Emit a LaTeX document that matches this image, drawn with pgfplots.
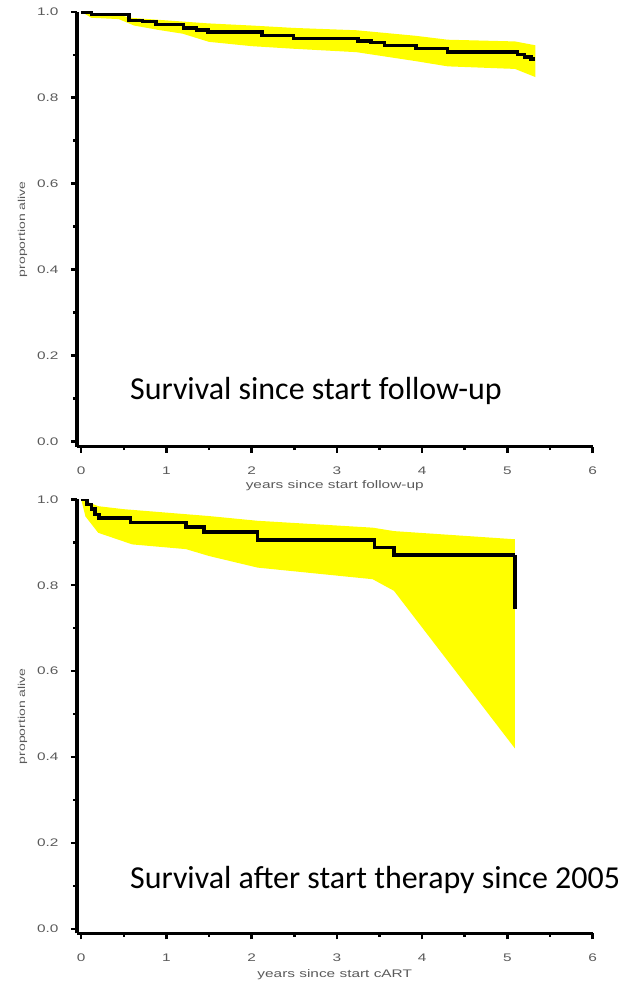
\documentclass[border=0pt]{standalone}
\usepackage{fontspec}
\setmainfont{Liberation Sans}[FakeStretch=1.4]
\newfontfamily\calib{Carlito}
\usepackage{pgfplots}
\pgfplotsset{compat=1.18}
\usepgfplotslibrary{fillbetween}
\definecolor{band}{RGB}{255,255,0}
\definecolor{lab}{RGB}{90,90,90}

\pgfplotsset{
  km/.style={
    scale only axis, width=516pt,
    xmin=-0.05, xmax=6, ymax=1,
    axis x line*=bottom, axis y line*=left,
    axis line style={line width=3.5pt, -},
    xtick={0,...,6}, ytick={0,0.2,...,1.0},
    minor xtick={0.5,1.5,...,5.5}, minor ytick={0.1,0.3,...,0.9},
    tick align=outside,
    major tick length=6pt, minor tick length=3.5pt,
    every tick/.style={line width=2.5pt, black},
    yticklabel style={/pgf/number format/.cd, fixed, fixed zerofill, precision=1},
    /pgf/number format/assume math mode=true,
    ticklabel style={font=\fontsize{11}{13}\selectfont, text=lab},
    label style={font=\fontsize{11}{13}\selectfont, text=lab},
    xticklabel shift=11pt, yticklabel shift=9pt,
    ylabel={proportion alive},
    ylabel style={at={(ticklabel cs:0.5,0pt)}, anchor=south, yshift=3pt,
      font=\fontsize{10}{12}\selectfont},
  }
}

\begin{document}
\begin{tikzpicture}
\path (0,0) rectangle (619pt,983pt);

% top panel
\begin{axis}[km, height=435.2pt, ymin=-0.012,
  at={(77pt,536pt)}, anchor=south west,
  xlabel={years since start follow-up}, xlabel style={yshift=1pt}]
\addplot[draw=none, name path=U] coordinates {
  (0,1.0) (0.12,0.996) (0.44,0.993) (0.58,0.986) (1.0,0.98) (1.49,0.973)
  (2.0,0.968) (2.49,0.9625) (3.23,0.957) (3.5,0.952) (3.93,0.944)
  (4.3,0.935) (5.09,0.931) (5.33,0.922)};
\addplot[draw=none, name path=L] coordinates {
  (0,1.0) (0.12,0.986) (0.44,0.983) (0.62,0.968) (0.9,0.958) (1.19,0.949)
  (1.5,0.93) (2.0,0.92) (2.49,0.914) (3.23,0.906) (3.93,0.885)
  (4.3,0.873) (5.09,0.867) (5.33,0.848)};
\addplot[band] fill between[of=U and L];
\addplot[const plot, line width=3.5pt, black] coordinates {
  (0,1.0) (0.12,0.994) (0.56,0.98) (0.72,0.977) (0.88,0.97) (1.2,0.962)
  (1.35,0.958) (1.49,0.953) (2.12,0.945) (2.49,0.9375) (3.25,0.932)
  (3.4,0.928) (3.56,0.922) (3.93,0.914) (4.3,0.906) (5.12,0.9)
  (5.2,0.895) (5.28,0.89) (5.33,0.89)};
\end{axis}

% bottom panel
\begin{axis}[km, height=434.3pt, ymin=-0.01,
  at={(77pt,49pt)}, anchor=south west,
  xlabel={years since start cART}, xlabel style={yshift=-1pt}]
\addplot[draw=none, name path=U] coordinates {
  (0,1.0) (0.2,0.984) (0.5,0.977) (1.5,0.961) (2.07,0.95)
  (3.42,0.934) (3.67,0.926) (5.09,0.907)};
\addplot[draw=none, name path=L] coordinates {
  (0,1.0) (0.05,0.96) (0.2,0.922) (0.6,0.895) (1.23,0.884) (1.5,0.868)
  (2.07,0.841) (3.42,0.814) (3.67,0.787) (5.09,0.42)};
\addplot[band] fill between[of=U and L];
\addplot[const plot, line width=3.5pt, black] coordinates {
  (0,1.0) (0.07,0.988) (0.12,0.977) (0.16,0.965) (0.21,0.957)
  (0.58,0.946) (1.23,0.936) (1.44,0.924) (2.07,0.905) (3.44,0.888)
  (3.67,0.87) (5.09,0.87)};
\addplot[line width=3.5pt, black] coordinates {(5.09,0.87) (5.09,0.744)};
\end{axis}

\node[overlay, anchor=base west, inner sep=0pt, font=\calib\fontsize{32}{36}\selectfont] at (130pt,583pt) {Survival since start follow-up};
\node[overlay, anchor=base west, inner sep=0pt, font=\calib\fontsize{32}{36}\selectfont] at (130pt,94pt) {Survival after start therapy since 2005};
\end{tikzpicture}
\end{document}
